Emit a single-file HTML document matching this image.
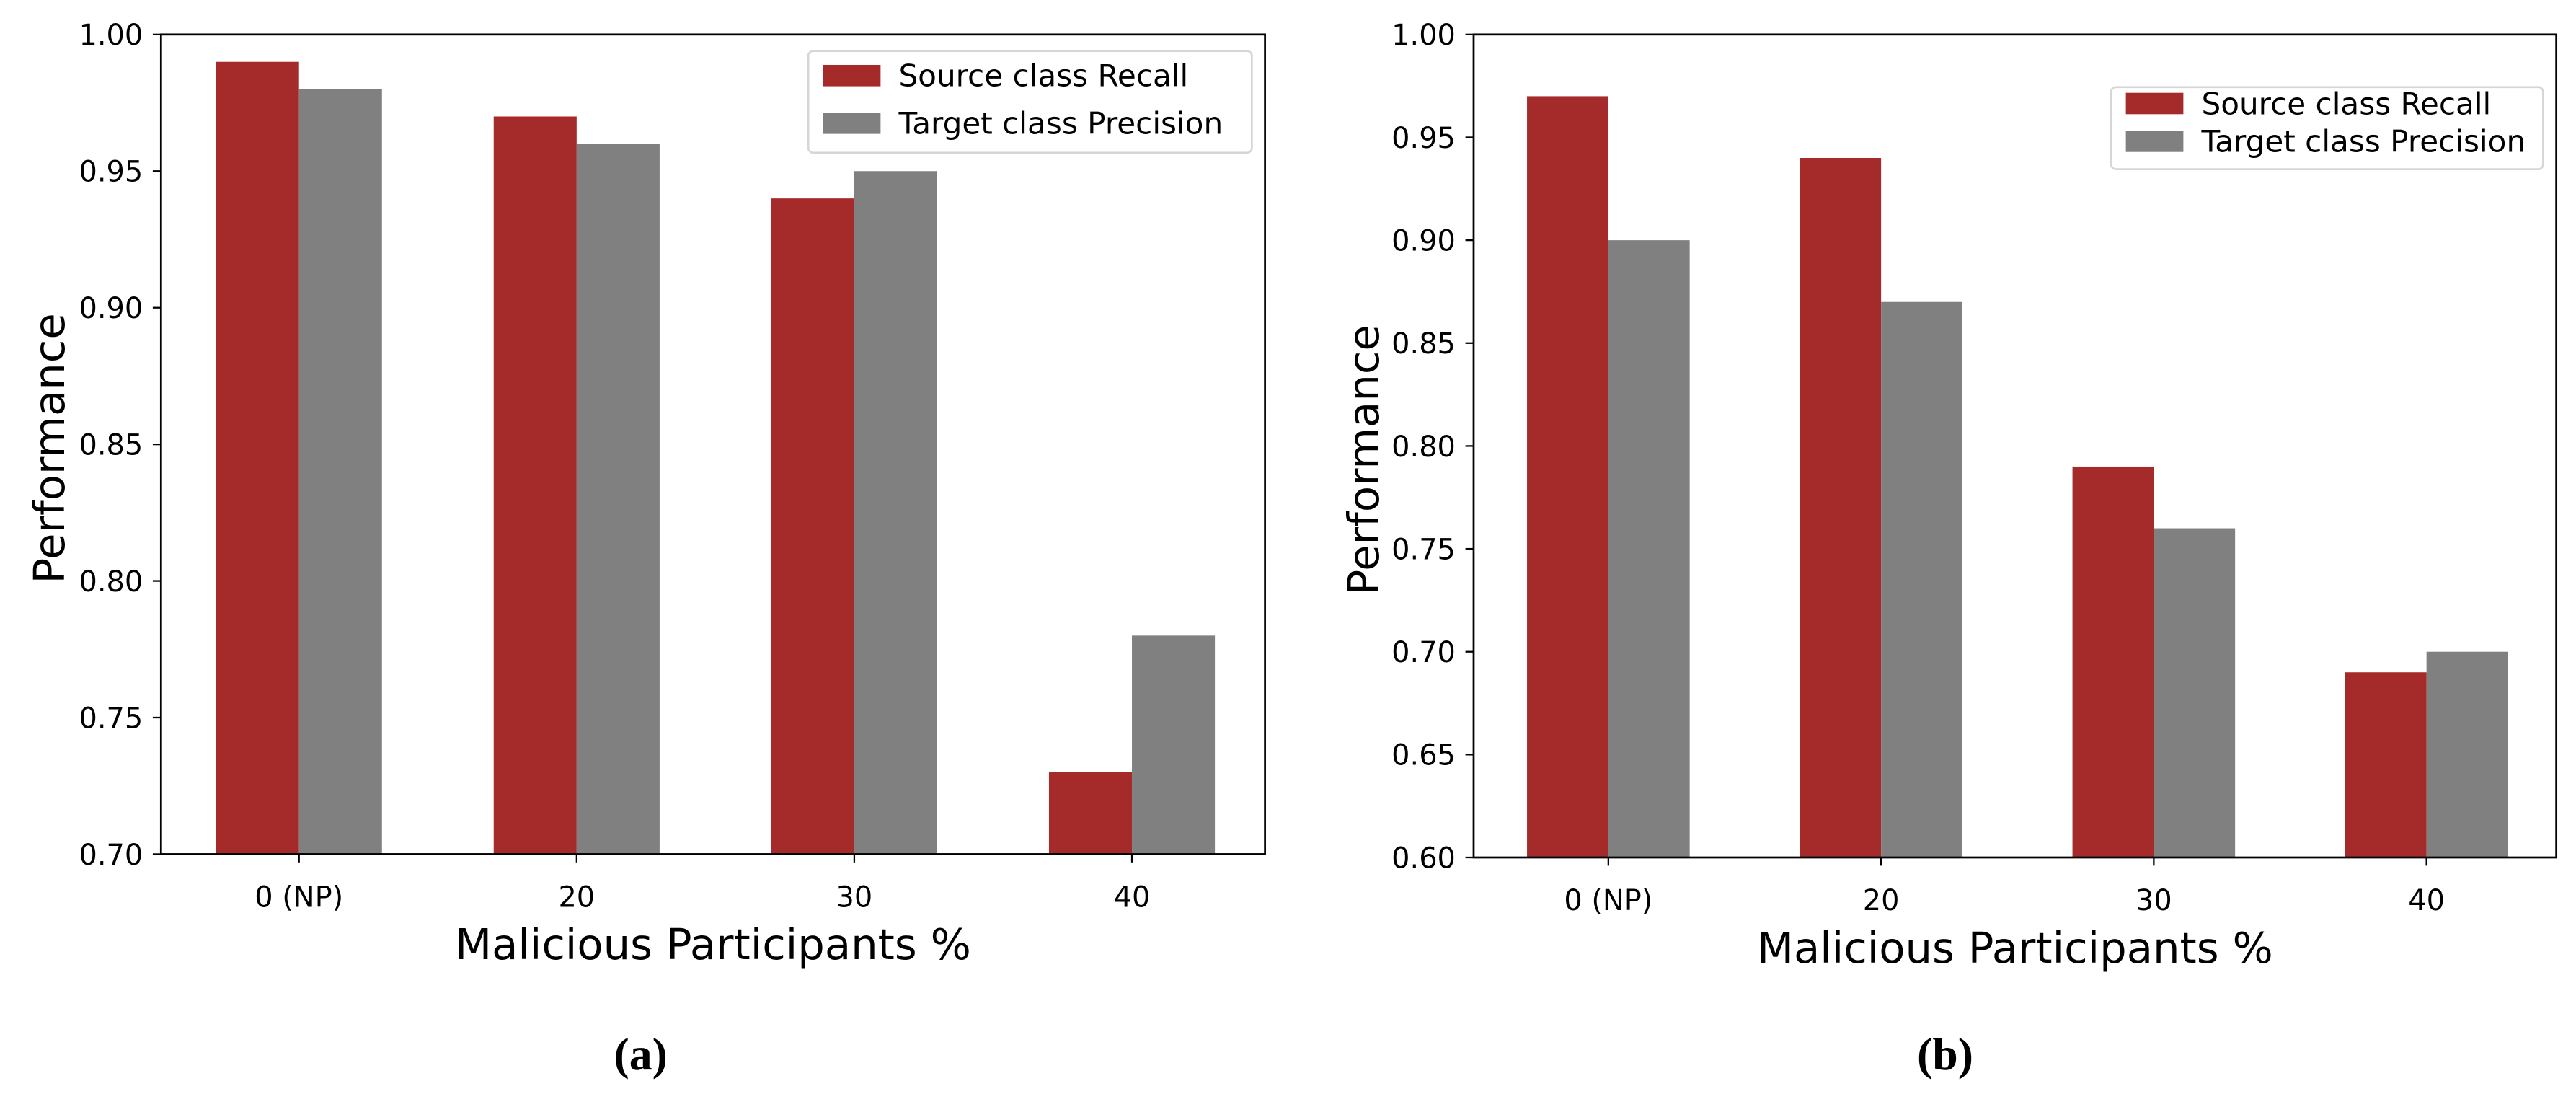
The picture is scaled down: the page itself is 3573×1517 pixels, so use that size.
<!DOCTYPE html>
<html><head><meta charset="utf-8"><style>
html,body{margin:0;padding:0;background:#fff;}
svg{display:block;font-family:"DejaVu Sans","Liberation Sans",sans-serif;}
</style></head><body>
<svg id="fig" width="3573" height="1517" viewBox="0 0 1568 666" preserveAspectRatio="none" xmlns="http://www.w3.org/2000/svg">
<rect width="1568" height="666" fill="#fff"/>
</svg>
<script>
const categories = ["0 (NP)", "20", "30", "40"];
const recallA = [0.99, 0.97, 0.94, 0.73];
const precisionA = [0.98, 0.96, 0.95, 0.78];
const recallB = [0.97, 0.94, 0.79, 0.69];
const precisionB = [0.90, 0.87, 0.76, 0.70];
const ticksA = [0.70, 0.75, 0.80, 0.85, 0.90, 0.95, 1.00];
const ticksB = [0.60, 0.65, 0.70, 0.75, 0.80, 0.85, 0.90, 0.95, 1.00];
const seriesNames = ["Source class Recall", "Target class Precision"];

const NS = "http://www.w3.org/2000/svg";
const svg = document.getElementById("fig");
function mk(tag, attrs, parent) {
  const e = document.createElementNS(NS, tag);
  for (const k in attrs) e.setAttribute(k, attrs[k]);
  (parent || svg).appendChild(e);
  return e;
}

function drawChart(cfg) {
  const g = mk("g", {});
  
  
  const {L, R, T, B, ymin, ymax} = cfg;
  const y = v => B - (v - ymin) / (ymax - ymin) * (B - T);
  const x = i => cfg.x0 + i * cfg.dx;
  const bw = cfg.bw;
  categories.forEach((c, i) => {
    const r = mk("rect", {x: x(i) - bw, y: y(cfg.rec[i]), width: bw, height: B - y(cfg.rec[i]), fill: "#a52a2a"}, g);
    
    
    const p = mk("rect", {x: x(i), y: y(cfg.prec[i]), width: bw, height: B - y(cfg.prec[i]), fill: "#808080"}, g);
    
    
    mk("line", {x1: x(i), x2: x(i), y1: B, y2: B + 5, stroke: "#000", "stroke-width": 1}, g);
    const t = mk("text", {x: x(i), y: B + 32, "text-anchor": "middle", "font-size": 17.5}, g);
    t.textContent = c;
    
    
  });
  cfg.ticks.forEach(v => {
    mk("line", {x1: L - 5, x2: L, y1: y(v), y2: y(v), stroke: "#000", "stroke-width": 1}, g);
    const t = mk("text", {x: L - 11, y: y(v) + 6.3, "text-anchor": "end", "font-size": 17.5}, g);
    t.textContent = v.toFixed(2);
    
    
  });
  const fr = mk("rect", {x: L, y: T, width: R - L, height: B - T, fill: "none", stroke: "#000", "stroke-width": 1.2}, g);
  
  
  const xl = mk("text", {x: (L + R) / 2, y: B + 64, "text-anchor": "middle", "font-size": 26}, g);
  xl.textContent = "Malicious Participants %";
  
  
  const yl = mk("text", {x: 0, y: 0, "text-anchor": "middle", "font-size": 26, transform: `translate(${cfg.ylx},${cfg.yly}) rotate(-90)`}, g);
  yl.textContent = "Performance";
  
  
  const lg = mk("g", {}, g);
  
  
  mk("rect", {x: cfg.lx, y: cfg.ly, width: cfg.lw, height: cfg.lh, rx: 3, fill: "#fff", stroke: "#d6d6d6", "stroke-width": 1.2}, lg);
  cfg.ey.forEach((cy, k) => {
    mk("rect", {x: cfg.lx + 9, y: cy - 6.5, width: 35, height: 13, fill: k ? "#808080" : "#a52a2a"}, lg);
    const t = mk("text", {x: cfg.lx + 55, y: cy + 6.5, "font-size": 18.5}, lg);
    t.textContent = seriesNames[k];
    
    
  });
  const cap = mk("text", {x: cfg.capx, y: 651, "text-anchor": "middle", "font-size": 28, "font-weight": "bold", "font-family": "Liberation Serif, serif"}, g);
  cap.textContent = cfg.cap;
  
  
}

drawChart({name: "chart-a", L: 98, R: 770, T: 21, B: 520, ymin: 0.70, ymax: 1.00, ticks: ticksA,
  rec: recallA, prec: precisionA, x0: 182, dx: 169, bw: 50.5, ylx: 39, yly: 273,
  lx: 492, ly: 31, lw: 270, lh: 62, ey: [46, 75], capx: 390, cap: "(a)"});
drawChart({name: "chart-b", L: 897, R: 1556, T: 21, B: 522, ymin: 0.60, ymax: 1.00, ticks: ticksB,
  rec: recallB, prec: precisionB, x0: 979, dx: 166, bw: 49.5, ylx: 839, yly: 280,
  lx: 1285, ly: 53, lw: 263, lh: 50, ey: [63, 86], capx: 1184, cap: "(b)"});
</script>
</body></html>
